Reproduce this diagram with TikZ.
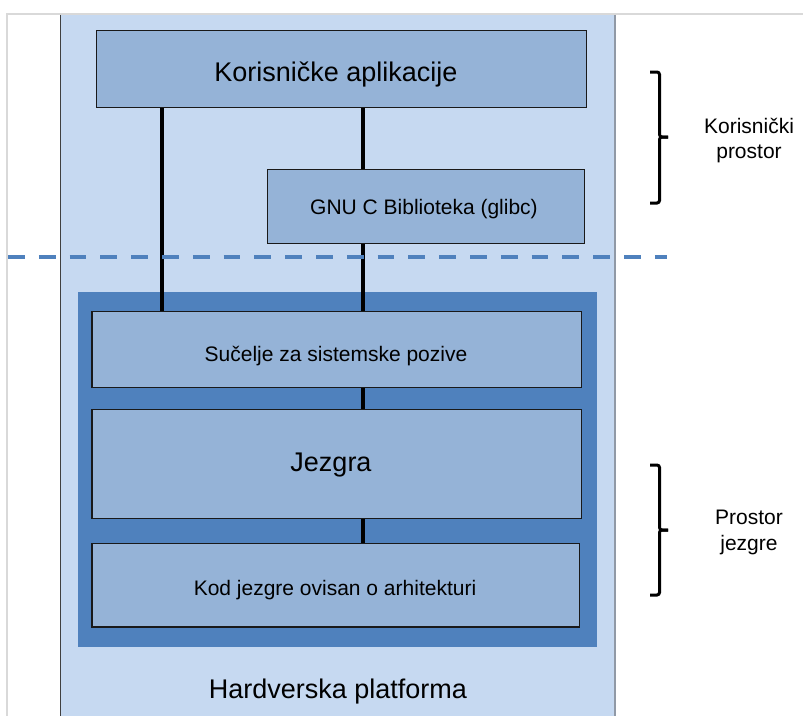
\documentclass[tikz,border=0pt]{standalone}
\usepackage{fontspec}
\setmainfont{Liberation Sans}
\definecolor{panel}{HTML}{C6D9F1}
\definecolor{boxfill}{HTML}{95B3D7}
\definecolor{kernel}{HTML}{4F81BD}
\definecolor{framegray}{HTML}{D9D9D9}
\definecolor{edgegray}{HTML}{9099A6}
\tikzset{
  layer/.style={draw=black!90, line width=1.4pt, fill=boxfill, inner sep=0pt, anchor=north west},
  region/.style={inner sep=0pt, anchor=north west},
  bigtxt/.style={font=\fontsize{27}{32}\selectfont, anchor=base, inner sep=0pt},
  smalltxt/.style={font=\fontsize{21}{25.5}\selectfont, anchor=base, inner sep=0pt},
  sidetxt/.style={font=\fontsize{21}{25.5}\selectfont, align=center, inner sep=0pt},
  link/.style={line width=3.8pt, black},
  bracket/.style={line width=3pt, black, rounded corners=2.5pt},
  boundary/.style={kernel, line width=4pt, dash pattern=on 16.8pt off 14pt},
}
\begin{document}
\begin{tikzpicture}[x=1pt,y=-1pt]
\useasboundingbox (0,0) rectangle (803,715);
\clip (0,0) rectangle (803,715);
\fill[white] (0,0) rectangle (803,715);

% page frame
\draw[framegray, line width=1.5pt] (7,14) rectangle (840,760);

% hardware platform panel
\node[region, fill=panel, minimum width=554.5pt, minimum height=740pt] (hw) at (60.5,14.8) {};
\draw[black!75, line width=1.3pt] (hw.north west) -- (hw.south west);
\draw[edgegray, line width=2pt] (hw.north east) -- (hw.south east);

% kernel space block
\node[region, fill=kernel, minimum width=519.5pt, minimum height=355.2pt] (kern) at (77.5,291.8) {};

% layers
\node[layer, minimum width=489.5pt, minimum height=77pt] (ua) at (96,30) {};
\node[layer, minimum width=317pt, minimum height=74pt] (glibc) at (267,169) {};
\node[layer, minimum width=489.7pt, minimum height=76pt] (sci) at (91.3,310.8) {};
\node[layer, minimum width=489.7pt, minimum height=109pt] (core) at (91.3,408.8) {};
\node[layer, minimum width=487.7pt, minimum height=83.5pt] (arch) at (91.3,542.8) {};

% layer captions
\node[bigtxt] (ua-t) at (336,81) {Korisničke aplikacije};
\node[smalltxt] (glibc-t) at (424,214) {GNU C Biblioteka (glibc)};
\node[smalltxt] (sci-t) at (336,361.5) {Sučelje za sistemske pozive};
\node[bigtxt] (core-t) at (331,471) {Jezgra};
\node[smalltxt] (arch-t) at (335,595) {Kod jezgre ovisan o arhitekturi};
\node[bigtxt] (hw-t) at (338,698) {Hardverska platforma};

% connections between layers
\coordinate (lx) at (162,0);
\coordinate (rx) at (363,0);
\draw[link] (ua.south -| lx) -- (sci.north -| lx);
\draw[link] (ua.south -| rx) -- (glibc.north -| rx);
\draw[link] (glibc.south -| rx) -- (sci.north -| rx);
\draw[link] (sci.south -| rx) -- (core.north -| rx);
\draw[link] (core.south -| rx) -- (arch.north -| rx);

% user/kernel boundary
\coordinate (bl) at (8,257);
\coordinate (br) at (667,257);
\draw[boundary] (bl) -- (br);

% braces
\draw[bracket] (650,72) -- (659.5,72) -- (659.5,137) -- (668,137);
\draw[bracket] (668,137) -- (659.5,137) -- (659.5,203) -- (650,203);
\draw[bracket] (650,465) -- (659.5,465) -- (659.5,530) -- (668,530);
\draw[bracket] (668,530) -- (659.5,530) -- (659.5,595) -- (650,595);

% side labels
\node[sidetxt] (usr) at (749,140.6) {Korisnički\\prostor};
\node[sidetxt] (krn) at (749,532.2) {Prostor\\jezgre};
\end{tikzpicture}
\end{document}
